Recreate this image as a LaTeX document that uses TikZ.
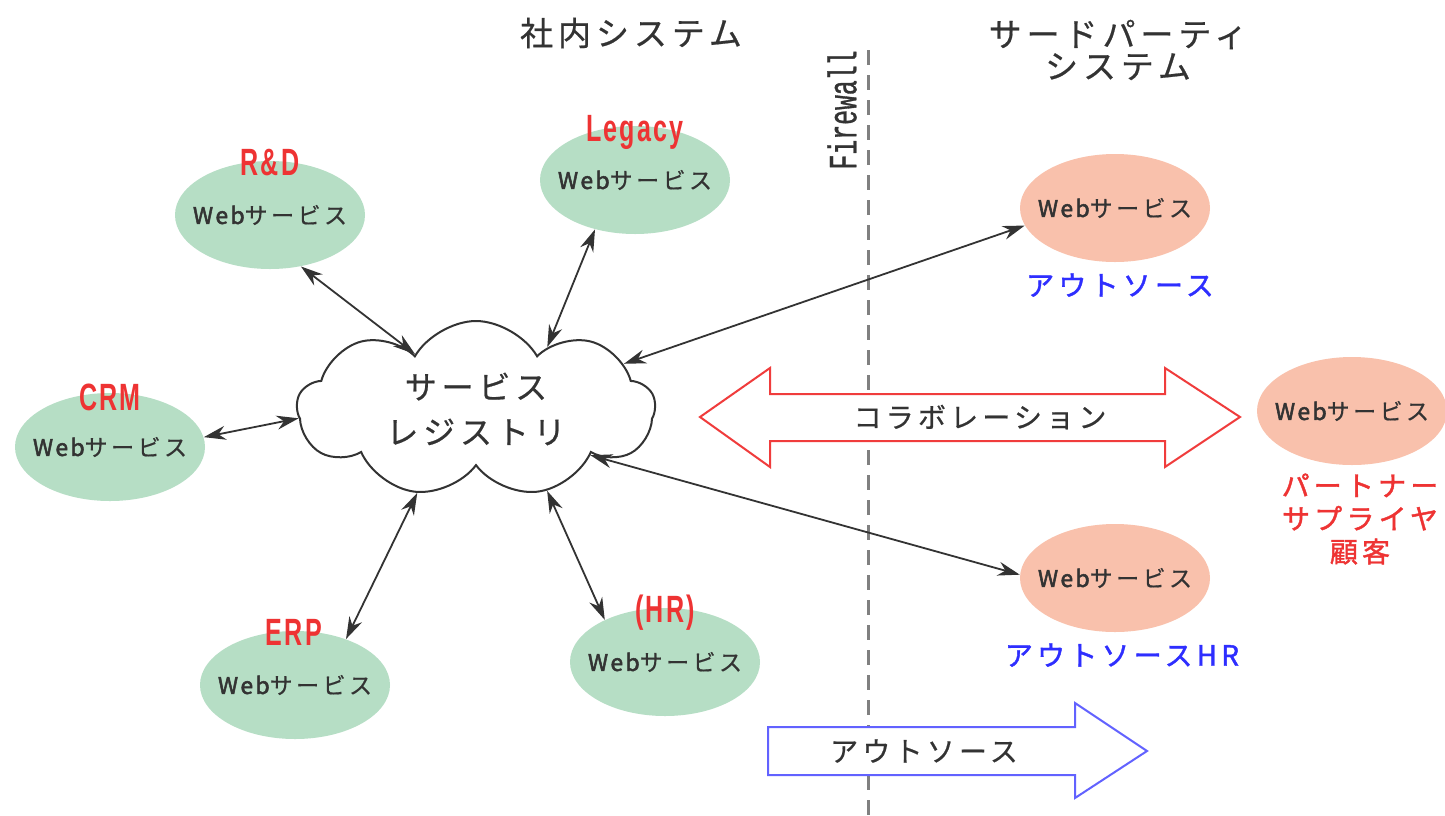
\documentclass[tikz,border=0pt]{standalone}
\usepackage{fontspec}
\setmainfont{Noto Sans CJK JP}
\newfontfamily\jp[LetterSpace=15,FakeBold=0.6]{Noto Sans CJK JP}
\newfontfamily\jpb[LetterSpace=15,FakeBold=1.4]{Noto Sans CJK JP}
\newfontfamily\webf[LetterSpace=10,FakeBold=2.2]{Noto Sans CJK JP}
\newfontfamily\cond[FakeStretch=0.66,LetterSpace=6]{Liberation Sans}
\newfontfamily\fwfont[FakeStretch=0.62,FakeBold=0.8]{Liberation Mono}
\usetikzlibrary{shapes.geometric,shapes.symbols,arrows.meta}
\definecolor{gfill}{HTML}{B6DEC5}
\definecolor{sfill}{HTML}{F9C1AC}
\definecolor{rtext}{HTML}{EE3333}
\definecolor{btext}{HTML}{2E2EFF}
\definecolor{ink}{HTML}{333333}
\definecolor{fwgray}{HTML}{808080}
\definecolor{rarrow}{HTML}{F03C3C}
\definecolor{barrow}{HTML}{6262FF}
\newcommand{\websvc}{\makebox[0pt]{{\webf Web}サービス}}
\tikzset{
  ws/.style={ellipse, fill=gfill, minimum width=95pt, minimum height=54pt, inner sep=0pt,
    font=\jp\fontsize{11.5}{12}\selectfont, text=ink},
  os/.style={ws, fill=sfill},
  lbl/.style={anchor=base, font=\cond\bfseries\fontsize{19}{20}\selectfont, text=rtext, inner sep=0pt},
  blbl/.style={font=\jpb\fontsize{14}{15}\selectfont, text=btext, inner sep=0pt},
  title/.style={font=\jp\fontsize{16.5}{17}\selectfont, text=ink, align=center, inner sep=0pt},
  link/.style={draw=ink, line width=0.9pt, {Stealth[length=11pt,width=7pt]}-{Stealth[length=11pt,width=7pt]}},
  bigtext/.style={font=\jp\fontsize{14}{15}\selectfont, text=ink, inner sep=0pt}
}
\begin{document}
\begin{tikzpicture}[x=0.5pt,y=-0.5pt]
\useasboundingbox (0,0) rectangle (1445,815);
\fill[white] (0,0) rectangle (1445,815);

% titles
\node[title] (t1) at (631,33) {社内システム};
\node[title] (t2) at (1118,50) {サードパーティ\\[-1pt]システム};

% firewall
\draw[fwgray, line width=1.5pt, dash pattern=on 7.5pt off 5pt] (868,50) coordinate (fwtop) -- (868,815) coordinate (fwbot);
\node[rotate=90, font=\fwfont\fontsize{20}{20}\selectfont, text=ink, inner sep=0pt] (fw) at (842,110) {Firewall};

% internal web services
\node[ws] (rd) at (270,215) {\websvc};
\node[ws] (leg) at (635,180) {\websvc};
\node[ws] (crm) at (110,447) {\websvc};
\node[ws] (erp) at (295,685) {\websvc};
\node[ws] (hr) at (665,662) {\websvc};

\node[lbl] (lrd) at (270,175) {R\&D};
\node[lbl] (lleg) at (635,141) {Legacy};
\node[lbl] (lcrm) at (110,410) {CRM};
\node[lbl] (lerp) at (294,645) {ERP};
\node[lbl] (lhr) at (665,622) {(HR)};

% external web services
\node[os] (out1) at (1115,208) {\websvc};
\node[os] (part) at (1352,411) {\websvc};
\node[os] (out2) at (1115,578) {\websvc};

\node[blbl] (lout1) at (1120,285) {アウトソース};
\node[blbl] (lout2) at (1122,655) {アウトソースHR};
\node[blbl, text=rtext, align=center, font=\jpb\fontsize{14}{16.5}\selectfont] (lpart) at (1360,519) {パートナー\\サプライヤ\\顧客};

% registry cloud
\node[cloud, draw=ink, line width=1pt, fill=white, cloud puffs=9, cloud puff arc=120, aspect=2,
  minimum width=179pt, minimum height=88pt, inner sep=0pt] (reg) at (476,409) {};
\node[font=\jp\fontsize{16}{22.5}\selectfont, text=ink, align=center, inner sep=0pt] (regt) at (reg.center) {サービス\\レジストリ};

% big arrows
\draw[rarrow, line width=1pt, fill=white, line join=miter]
  (700,417) -- (770,368) -- (770,394) -- (1165,394) -- (1165,368) -- (1240,417)
  -- (1165,467) -- (1165,441) -- (770,441) -- (770,467) -- cycle;
\node[bigtext] (collab) at (980,417) {コラボレーション};
\draw[barrow, line width=1pt, fill=white, line join=miter]
  (768,727) -- (1075,727) -- (1075,703) -- (1147,751) -- (1075,798) -- (1075,775) -- (768,775) -- cycle;
\node[bigtext] (outs) at (924,751) {アウトソース};

% connectors
\draw[link] (rd.301) -- (reg.138);
\draw[link] (leg.231) -- (reg.41);
\draw[link] (crm.6) -- (reg.183);
\draw[link] (erp.42) -- (reg.235);
\draw[link] (hr.145) -- (reg.311);
\draw[link] (reg.17) -- (out1.191);
\draw[link] (reg.338) -- (out2.178);
\end{tikzpicture}
\end{document}
